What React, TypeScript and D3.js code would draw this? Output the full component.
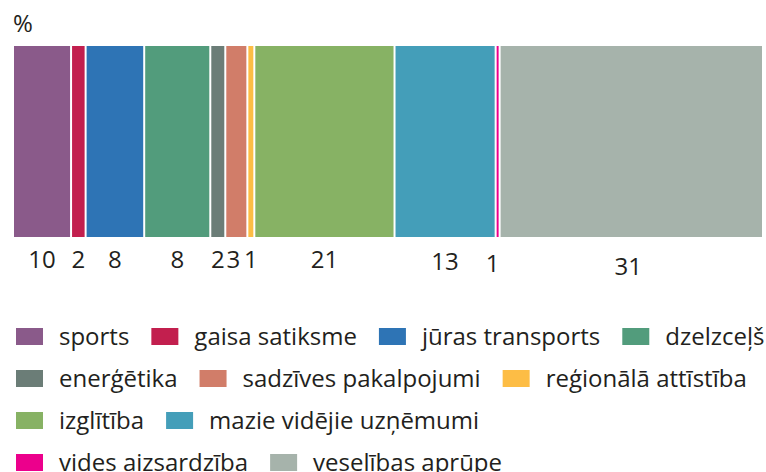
import React, { useMemo } from "react";
import * as d3 from "d3";

const categories = [
  "sports",
  "gaisa satiksme",
  "jūras transports",
  "dzelzceļš",
  "enerģētika",
  "sadzīves pakalpojumi",
  "reģionālā attīstība",
  "izglītība",
  "mazie vidējie uzņēmumi",
  "vides aizsardzība",
  "veselības aprūpe",
];

// segment shares as drawn
const shares = [7.74, 1.94, 7.81, 8.81, 2.0, 2.94, 0.93, 18.69, 13.48, 0.53, 35.11];

// printed value labels
const valueLabels = ["10", "2", "8", "8", "2", "3", "1", "21", "13", "1", "31"];

const colors = [
  "#8a5a8a",
  "#c21f4e",
  "#2e74b5",
  "#529c7c",
  "#6b7d77",
  "#d17d69",
  "#fdbd45",
  "#87b264",
  "#449eb9",
  "#ec008c",
  "#a6b3ab",
];

const legendRows = [
  [0, 1, 2, 3],
  [4, 5, 6],
  [7, 8],
  [9, 10],
];

const unitLabel = "%";

const W = 766;
const H = 472;
const FONT = "'Open Sans', 'Noto Sans', sans-serif";
const FS = 24;
const TEXT = "#231f20";

// small label nudges (dx, dy) as in the original typesetting
const labelNudge: [number, number][] = [
  [0, 0], [0, 0], [0, 0], [0, 0], [0, 0], [-3, 0], [0, 0], [0, 0], [0, 2], [-5, 4], [-3, 7],
];

export default function App() {
  const total = d3.sum(shares);
  const x = d3.scaleLinear().domain([0, total]).range([14, 764]);
  const barTop = 46;
  const barBottom = 237;

  const stacked = useMemo(() => {
    let acc = 0;
    return shares.map((v, i) => {
      const s = acc;
      acc += v;
      return { i, s, e: acc };
    });
  }, []);

  const measure = useMemo(() => {
    const c = document.createElement("canvas").getContext("2d")!;
    c.font = `${FS}px ${FONT}`;
    return (t: string) => c.measureText(t).width;
  }, []);

  const legendItems: { i: number; x: number; y: number }[] = [];
  legendRows.forEach((row, r) => {
    let cx = 16;
    const baseline = 345 + r * 42;
    row.forEach((i) => {
      legendItems.push({ i, x: cx, y: baseline });
      cx += 27 + 16 + measure(categories[i]) + 22;
    });
  });

  return (
    <svg
      width={W}
      height={H}
      style={{ position: "absolute", left: 0, top: 0, background: "#fff" }}
      fontFamily={FONT}
    >
      <text x={13} y={32} fontSize={FS} fill={TEXT}>
        {unitLabel}
      </text>
      {stacked.map((d) => (
        <rect
          key={d.i}
          x={x(d.s)}
          y={barTop}
          width={Math.max(0.8, x(d.e) - x(d.s) - 2)}
          height={barBottom - barTop}
          fill={colors[d.i]}
        />
      ))}
      {stacked.map((d) => (
        <text
          key={"l" + d.i}
          x={(x(d.s) + x(d.e) - 2) / 2 + labelNudge[d.i][0]}
          y={268 + labelNudge[d.i][1]}
          textAnchor="middle"
          fontSize={FS}
          fill={TEXT}
        >
          {valueLabels[d.i]}
        </text>
      ))}
      {legendItems.map((it) => (
        <g key={"g" + it.i}>
          <rect x={it.x} y={it.y - 17} width={27} height={17} fill={colors[it.i]} />
          <text x={it.x + 27 + 16} y={it.y} fontSize={FS} fill={TEXT}>
            {categories[it.i]}
          </text>
        </g>
      ))}
    </svg>
  );
}
